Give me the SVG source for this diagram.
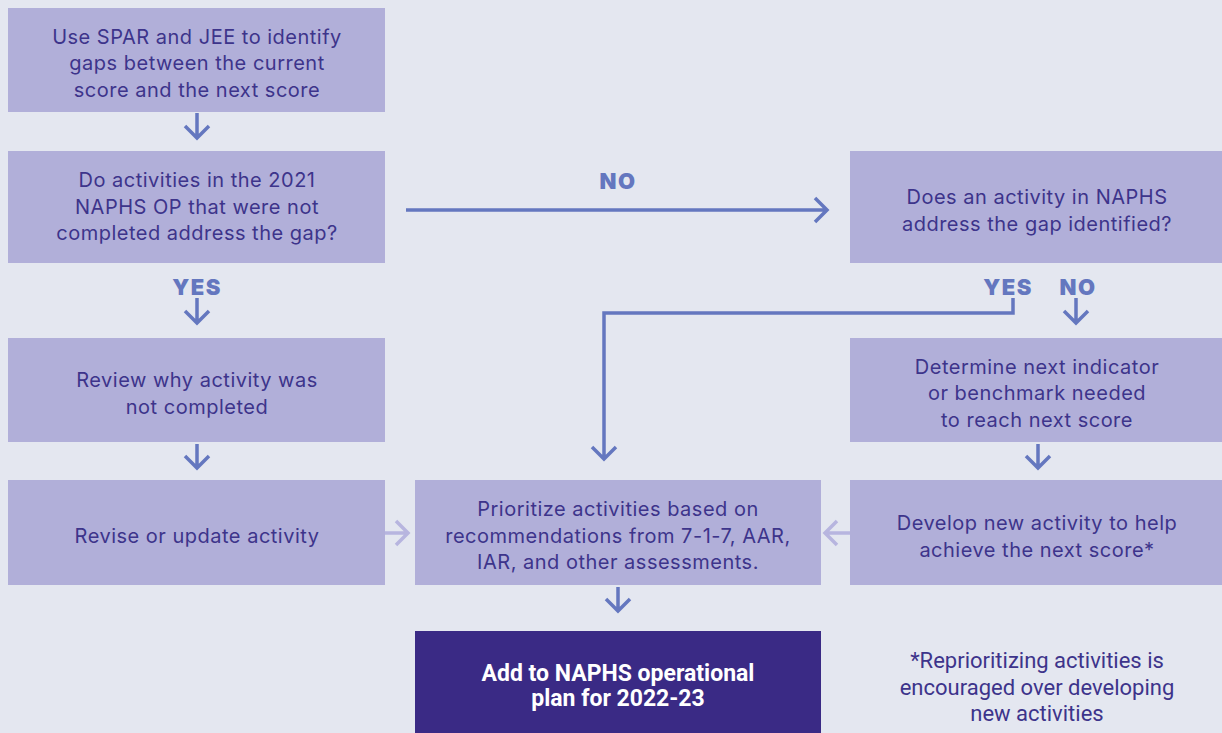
<svg xmlns="http://www.w3.org/2000/svg" width="1222" height="733" viewBox="0 0 1222 733">
<style>
.box{fill:#b1afd9}
.dark{fill:#3a2a85}
.t{font-family:Inter,"Liberation Sans",Arial,sans-serif;font-size:20px;letter-spacing:0.5px;fill:#3d348b;text-anchor:middle}
.tw{font-family:Roboto,"Liberation Sans",sans-serif;font-weight:bold;font-size:23px;fill:#ffffff;text-anchor:middle}
.fn{font-family:Roboto,"Liberation Sans",sans-serif;font-size:22px;fill:#3d348b;text-anchor:middle}
.lbl{font-family:Inter,"Liberation Sans",Arial,sans-serif;font-weight:900;font-size:22px;letter-spacing:1.5px;fill:#6477bf;text-anchor:middle}
.c{fill:none;stroke:#6477bf;stroke-width:3.5}
.cl{fill:none;stroke:#b7b5df;stroke-width:3.5}
</style>
<rect width="1222" height="733" fill="#e4e7f0"/>
<g id="n1"><rect class="box" x="8" y="8" width="377" height="104"/>
<text class="t" x="197" y="44">Use SPAR and JEE to identify</text>
<text class="t" x="197" y="70">gaps between the current</text>
<text class="t" x="197" y="97">score and the next score</text></g>
<g id="n2"><rect class="box" x="8" y="151" width="377" height="112"/>
<text class="t" x="197" y="187">Do activities in the 2021</text>
<text class="t" x="197" y="214">NAPHS OP that were not</text>
<text class="t" x="197" y="240">completed address the gap?</text></g>
<g id="n3"><rect class="box" x="850" y="151" width="372" height="112"/>
<text class="t" x="1037" y="204">Does an activity in NAPHS</text>
<text class="t" x="1037" y="231">address the gap identified?</text></g>
<g id="n4"><rect class="box" x="8" y="338" width="377" height="104"/>
<text class="t" x="197" y="387">Review why activity was</text>
<text class="t" x="197" y="414">not completed</text></g>
<g id="n5"><rect class="box" x="850" y="338" width="372" height="104"/>
<text class="t" x="1037" y="374">Determine next indicator</text>
<text class="t" x="1037" y="400">or benchmark needed</text>
<text class="t" x="1037" y="427">to reach next score</text></g>
<g id="n6"><rect class="box" x="8" y="480" width="377" height="105"/>
<text class="t" x="197" y="543">Revise or update activity</text></g>
<g id="n7"><rect class="box" x="415" y="480" width="406" height="105"/>
<text class="t" x="618" y="516">Prioritize activities based on</text>
<text class="t" x="618" y="543">recommendations from 7-1-7, AAR,</text>
<text class="t" x="618" y="569">IAR, and other assessments.</text></g>
<g id="n8"><rect class="box" x="850" y="480" width="372" height="105"/>
<text class="t" x="1037" y="530">Develop new activity to help</text>
<text class="t" x="1037" y="557">achieve the next score*</text></g>
<g id="n9"><rect class="dark" x="415" y="631" width="406" height="102"/>
<text class="tw" x="618" y="681">Add to NAPHS operational</text>
<text class="tw" x="618" y="706">plan for 2022-23</text></g>
<g id="note">
<text class="fn" x="1037" y="668">*Reprioritizing activities is</text>
<text class="fn" x="1037" y="695">encouraged over developing</text>
<text class="fn" x="1037" y="721">new activities</text></g>
<g id="labels">
<text class="lbl" x="618" y="189">NO</text>
<text class="lbl" x="197" y="295">YES</text>
<text class="lbl" x="1008" y="295">YES</text>
<text class="lbl" x="1078" y="295">NO</text>
</g>
<g id="connectors">
<path class="c" d="M197 113V138M185 126L197 138L209 126"/>
<path class="c" d="M406 210H827M815 198L827 210L815 222"/>
<path class="c" d="M197 298V323M185 311L197 323L209 311"/>
<path class="c" d="M1013 298V313H604V459M592 447L604 459L616 447"/>
<path class="c" d="M1076 298V323M1064 311L1076 323L1088 311"/>
<path class="c" d="M197 444V468M185 456L197 468L209 456"/>
<path class="c" d="M1038 444V468M1026 456L1038 468L1050 456"/>
<path class="cl" d="M385 533H408M396 521L408 533L396 545"/>
<path class="cl" d="M850 533H825M837 521L825 533L837 545"/>
<path class="c" d="M618 587V611M606 599L618 611L630 599"/>
</g>
</svg>
